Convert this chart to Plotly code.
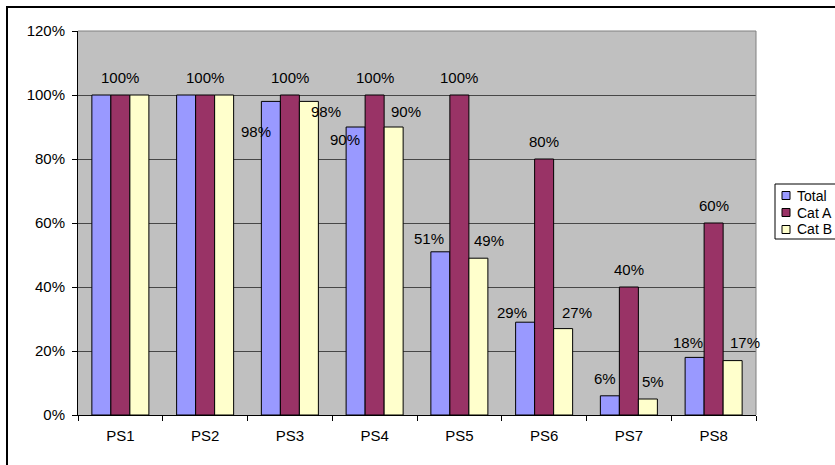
import plotly.graph_objects as go

# ---------------- data ----------------
categories = ["PS1", "PS2", "PS3", "PS4", "PS5", "PS6", "PS7", "PS8"]
series_names = ["Total", "Cat A", "Cat B"]
total_vals = [100, 100, 98, 90, 51, 29, 6, 18]
cat_a_vals = [100, 100, 100, 100, 100, 80, 40, 60]
cat_b_vals = [100, 100, 98, 90, 49, 27, 5, 17]
y_ticks = [0, 20, 40, 60, 80, 100, 120]

# ---------------- style ----------------
colors = ["#9999FF", "#993366", "#FFFFCC"]
FONT = "Liberation Sans, Arial, sans-serif"
FS = 15
W, H = 835, 465
ML, MR, MT, MB = 78, 79, 31, 50
PW = W - ML - MR
PH = H - MT - MB
BARGAP = 0.327
BAR_PX = PW / len(categories) * (1 - BARGAP) / 3

# label offsets (pixels, relative to bar centre / bar top), None = label hidden
total_lbl_off = [None, None, (-15, -30), (-11, -12), (-11, 13), (-13, 10), (-5, 17), (-7, 15)]
cat_a_lbl_off = [(0, 17.5)] * 8
cat_b_lbl_off = [None, None, (17, -10), (12, 15.5), (11, 17.5), (13.5, 16.5), (5.5, 18), (12.5, 18)]


def px_x(p):
    return (p - ML) / PW


def px_y(p):
    return (H - MB - p) / PH


fig = go.Figure()
for name, vals, col in zip(series_names, [total_vals, cat_a_vals, cat_b_vals], colors):
    fig.add_trace(go.Bar(
        x=categories, y=vals, name=name,
        marker=dict(color=col, line=dict(color="black", width=1)),
        hoverinfo="skip", showlegend=False,
    ))

annotations = []
for k, (vals, offs) in enumerate(zip([total_vals, cat_a_vals, cat_b_vals],
                                     [total_lbl_off, cat_a_lbl_off, cat_b_lbl_off])):
    base = (k - 1) * BAR_PX
    for c, v, o in zip(categories, vals, offs):
        if o is None:
            continue
        annotations.append(dict(
            x=c, y=v, xref="x", yref="y", text=f"{v}%", showarrow=False,
            xanchor="center", yanchor="middle",
            xshift=base + o[0], yshift=o[1],
            font=dict(family=FONT, size=FS, color="black"),
        ))

shapes = [
    # outer chart border (extends past the window on right/bottom)
    dict(type="rect", xref="paper", yref="paper",
         x0=px_x(7), x1=px_x(W + 20), y0=px_y(H + 20), y1=px_y(7),
         line=dict(color="black", width=2), fillcolor="rgba(0,0,0,0)", layer="below"),
    # plot-area border top and right
    dict(type="line", xref="paper", yref="paper", x0=0, x1=1, y0=1, y1=1,
         line=dict(color="#808080", width=1)),
    dict(type="line", xref="paper", yref="paper", x0=1, x1=1, y0=0, y1=1,
         line=dict(color="#808080", width=1)),
]

# legend box (Excel-style, cut off by the right edge as in the original)
LEG_L, LEG_T, LEG_ROW, LEG_PAD, LEG_FS = 775, 184, 17, 2, 14
leg_b = LEG_T + LEG_PAD * 2 + LEG_ROW * len(series_names)
shapes.append(dict(type="rect", xref="paper", yref="paper",
                   x0=px_x(LEG_L), x1=px_x(W + 20), y0=px_y(leg_b), y1=px_y(LEG_T),
                   line=dict(color="black", width=1), fillcolor="white"))
for i, (name, col) in enumerate(zip(series_names, colors)):
    cy = LEG_T + LEG_PAD + LEG_ROW * (i + 0.5) + 1
    shapes.append(dict(type="rect", xref="paper", yref="paper",
                       x0=px_x(782), x1=px_x(790), y0=px_y(cy + 4), y1=px_y(cy - 4),
                       line=dict(color="black", width=1), fillcolor=col))
    annotations.append(dict(
        x=px_x(796), y=px_y(cy), xref="paper", yref="paper", text=name,
        showarrow=False, xanchor="left", yanchor="middle", borderpad=0,
        font=dict(family=FONT, size=LEG_FS, color="black"),
    ))

fig.update_layout(
    width=W, height=H,
    margin=dict(l=ML, r=MR, t=MT, b=MB, pad=0, autoexpand=False),
    plot_bgcolor="#C0C0C0", paper_bgcolor="white",
    barmode="group", bargap=BARGAP, bargroupgap=0,
    font=dict(family=FONT, size=FS, color="black"),
    annotations=annotations, shapes=shapes,
    showlegend=False,
    xaxis=dict(
        type="category", range=[-0.5, len(categories) - 0.5],
        showline=True, linecolor="black", linewidth=1,
        ticks="outside", ticklen=5, tickcolor="black", tickwidth=1,
        tickson="boundaries", showgrid=False, zeroline=False,
        ticklabelstandoff=7, fixedrange=True, automargin=False,
    ),
    yaxis=dict(
        range=[0, 120], tickvals=y_ticks, ticktext=[f"{t}%" for t in y_ticks],
        showline=True, linecolor="black", linewidth=1,
        ticks="outside", ticklen=5, tickcolor="black", tickwidth=1,
        showgrid=True, gridcolor="#474747", gridwidth=1, zeroline=False,
        ticklabelstandoff=4, fixedrange=True, automargin=False,
    ),
)

fig.write_html("out.html", config={"displayModeBar": False})
